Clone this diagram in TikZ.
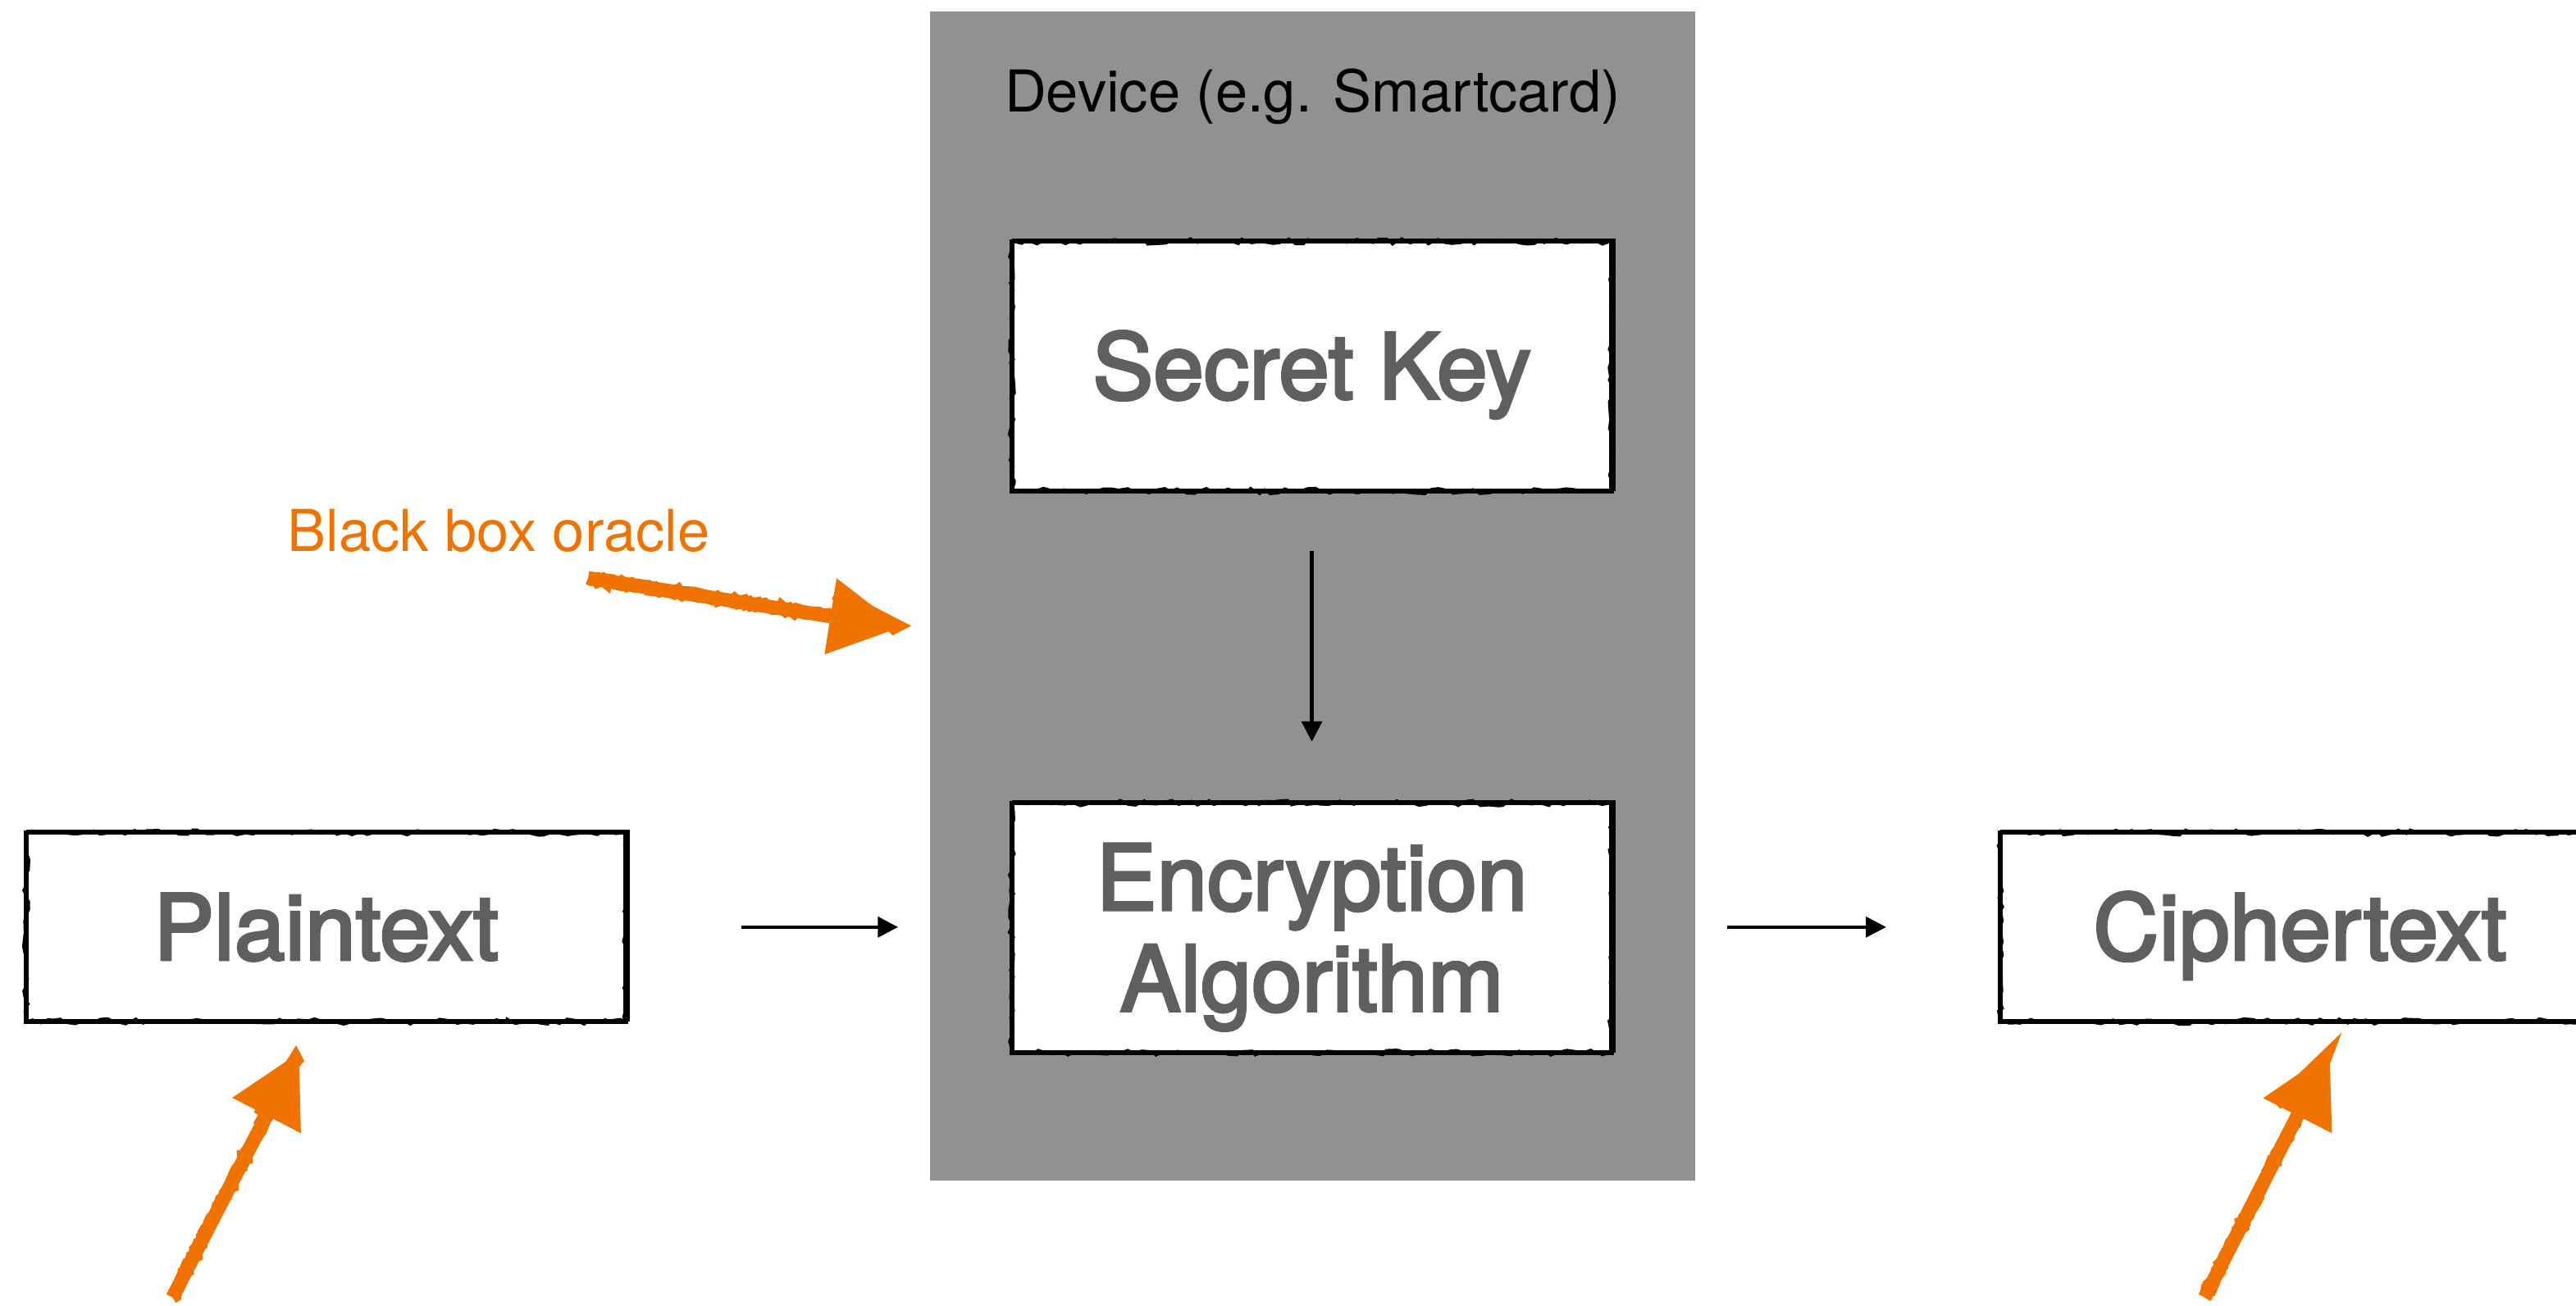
\documentclass[tikz,border=0pt]{standalone}
\usepackage{fontspec}
\setmainfont{TeX Gyre Heros}
\newfontfamily\boxfont[FakeBold=3]{TeX Gyre Heros}
\usetikzlibrary{positioning, arrows.meta, decorations.pathmorphing}
\definecolor{devgray}{RGB}{145,145,145}
\definecolor{boxtext}{RGB}{95,95,95}
\definecolor{hint}{RGB}{240,115,0}

\begin{document}
\begin{tikzpicture}[x=0.2mm, y=-0.2mm,
	box/.style={draw=black, fill=white, line width=1.6pt, text=boxtext, align=center, inner sep=0pt,
		font=\boxfont\fontsize{31.5}{35}\selectfont, text height=22.6pt, text depth=0pt,
		minimum width=73mm, minimum height=30.4mm,
		preaction={draw=black, line width=1.2pt, transform canvas={shift={(0.7pt,0.5pt)}}},
		postaction={draw=black, line width=0.7pt, decorate,
			decoration={random steps, segment length=2.5pt, amplitude=1.1pt}}},
	flow/.style={-{Triangle[length=7pt, width=7pt]}, line width=1.2pt},
	chalk/.style={draw=hint, line width=4.8pt, -{Triangle[length=8.6mm, width=9.4mm, line width=0pt 0 0]},
		postaction={draw=hint, line width=4.4pt, -, shorten >=9mm, decorate,
			decoration={random steps, segment length=1.2pt, amplitude=0.6pt}}}]
	\pgfmathsetseed{7}
	\useasboundingbox (0,0) rectangle (1568,795);
	% the device and what it keeps inside
	\node[fill=devgray, inner sep=0pt, minimum width=93.2mm, minimum height=142.4mm] (device) at (799,363) {};
	\node[font=\fontsize{20}{24}\selectfont] (devlabel) at (799,59) {Device (e.g. Smartcard)};
	\node[box] (key) at (798.5,223) {Secret Key};
	\node[box, text height=57.6pt] (enc) at (798.5,565) {Encryption\\Algorithm};
	\draw[flow, shorten <=7mm, shorten >=7.2mm] (key) -- (enc);
	% input and output
	\node[box, minimum height=23mm] (plain) at (198.5,564.5) {Plaintext};
	\node[box, minimum height=23mm] (cipher) at (1400,564.5) {Ciphertext};
	\draw[flow, shorten <=13.8mm, shorten >=3.8mm] (plain.east) -- (plain.east -| device.west);
	\draw[flow, shorten <=3.8mm, shorten >=13.6mm] (cipher.west -| device.east) -- (cipher.west);
	% hints
	\node[text=hint, font=\fontsize{20}{24}\selectfont] (oracle) at (303.5,323) {Black box oracle};
	\coordinate (o1) at (358,352);  \coordinate (o2) at (548,382);
	\coordinate (p1) at (105,790);  \coordinate (p2) at (182,641);
	\coordinate (c1) at (1342,790); \coordinate (c2) at (1418,641);
	\foreach \s/\t in {o1/o2, p1/p2, c1/c2}
		\draw[chalk] (\s) -- (\t);
\end{tikzpicture}
\end{document}
